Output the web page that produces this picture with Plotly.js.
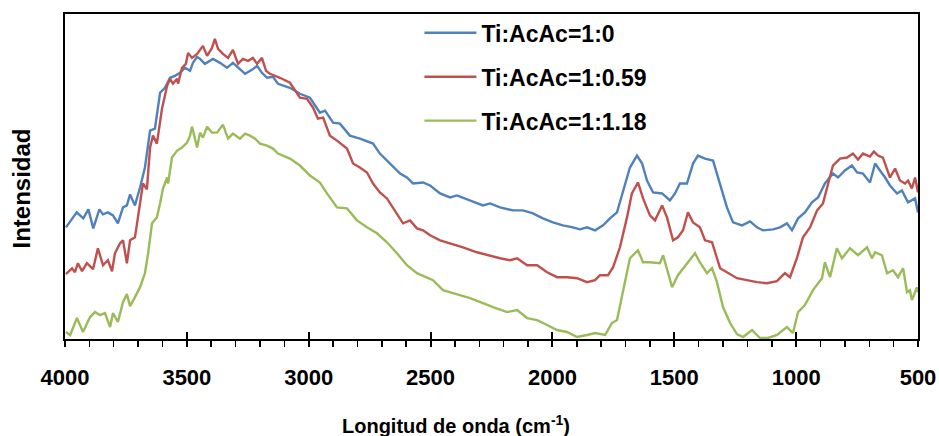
<!DOCTYPE html>
<html>
<head>
<meta charset="utf-8">
<script src="https://cdn.plot.ly/plotly-3.0.1.min.js"></script>
<style>html,body{margin:0;padding:0;background:#fff;}#chart{width:939px;height:436px;}</style>
</head>
<body>
<div id="chart"></div>
<script>
// Series names
const seriesNames = ["Ti:AcAc=1:0", "Ti:AcAc=1:0.59", "Ti:AcAc=1:1.18"];

// Ti:AcAc=1:0 (blue)
const blueWn = [3996,3952,3925,3904,3884,3859,3844,3824,3803,3783,3762,3746,3733,3713,3692,3672,3651,3631,3610,3590,3569,3549,3528,3508,3487,3475,3458,3446,3426,3393,3364,3335,3311,3282,3261,3233,3212,3192,3171,3147,3126,3077,3036,2995,2954,2933,2900,2872,2831,2790,2736,2708,2667,2625,2597,2572,2531,2502,2461,2420,2392,2338,2285,2256,2215,2162,2121,2080,2039,1998,1957,1916,1887,1858,1825,1792,1764,1735,1710,1682,1653,1632,1612,1587,1550,1518,1497,1477,1448,1423,1403,1374,1341,1312,1284,1259,1222,1189,1161,1136,1095,1066,1038,1017,992,964,935,910,882,849,828,800,771,750,726,697,676,656,635,615,586,566,541,512,500];
const blueI = [112,127,121,130,111,130,125,127,124,116,132,134,145,134,152,172,209,211,247,252,262,264,267,272,269,277,283,281,276,281,277,272,277,271,266,270,274,267,262,263,256,252,246,242,227,229,217,216,204,201,196,186,176,166,162,156,157,154,146,142,144,139,134,136,132,129,129,126,121,117,114,112,110,112,109,114,121,127,149,172,184,176,159,147,146,139,146,156,156,176,184,181,179,156,132,117,114,118,112,109,110,112,116,109,121,127,137,142,156,166,162,169,174,167,166,157,176,169,162,154,146,149,137,141,127];

// Ti:AcAc=1:0.59 (red)
const redWn = [3996,3971,3959,3947,3930,3910,3885,3865,3844,3824,3807,3795,3774,3762,3746,3733,3713,3692,3680,3664,3651,3639,3623,3602,3581,3569,3557,3540,3536,3520,3504,3495,3479,3458,3434,3417,3397,3385,3372,3352,3331,3311,3290,3270,3249,3229,3212,3192,3175,3159,3118,3077,3036,3007,2982,2962,2941,2913,2884,2843,2818,2790,2761,2736,2708,2679,2638,2613,2584,2556,2531,2502,2461,2420,2367,2310,2264,2215,2174,2145,2104,2063,2022,1981,1940,1899,1858,1825,1805,1772,1751,1723,1694,1674,1649,1628,1600,1579,1550,1530,1505,1485,1464,1444,1423,1395,1374,1345,1312,1284,1243,1202,1161,1120,1079,1046,1025,997,972,943,914,890,869,849,820,791,767,746,726,697,681,664,644,615,594,574,553,541,525,512,500];
const redI = [65,71,67,76,68,76,70,91,74,79,68,86,96,99,76,99,102,139,156,150,192,204,196,231,254,261,256,261,256,272,276,287,282,286,294,284,292,301,291,286,282,290,276,281,279,282,276,282,269,266,262,257,242,241,232,221,222,204,199,191,176,172,167,156,147,141,126,116,119,111,109,104,99,96,92,87,84,81,79,81,74,74,67,62,62,61,57,59,64,64,72,92,122,146,157,141,124,119,134,122,99,102,109,127,117,112,99,97,71,67,61,59,57,56,58,66,62,81,102,112,129,136,157,174,181,182,186,180,186,183,188,184,182,162,171,159,156,159,151,162,147];

// Ti:AcAc=1:1.18 (green)
const greenWn = [3996,3979,3951,3926,3897,3877,3856,3836,3815,3803,3783,3762,3746,3733,3713,3692,3672,3659,3643,3623,3610,3598,3581,3577,3561,3540,3520,3499,3487,3479,3458,3446,3434,3417,3397,3376,3352,3331,3311,3282,3261,3241,3220,3200,3171,3147,3126,3077,3036,2995,2954,2925,2884,2843,2802,2761,2720,2679,2638,2597,2556,2515,2490,2449,2420,2338,2264,2244,2186,2145,2104,2063,2022,1981,1940,1899,1858,1825,1784,1756,1735,1710,1682,1649,1628,1600,1559,1546,1526,1509,1485,1448,1415,1395,1366,1345,1325,1300,1271,1243,1218,1181,1148,1115,1079,1038,1013,992,964,931,894,882,861,833,812,779,746,709,689,676,648,627,603,582,561,545,533,525,504,500];
const greenI = [7,4,21,7,22,27,24,26,12,26,17,37,45,33,42,52,66,86,116,122,136,151,162,156,182,189,192,197,204,213,192,207,202,213,207,207,215,201,206,201,206,204,201,196,194,191,186,181,174,164,157,146,132,131,119,112,106,97,86,74,66,62,59,49,47,41,34,32,27,29,21,19,14,9,7,2,4,6,4,16,19,49,81,89,77,77,76,84,66,52,64,76,86,77,66,71,57,32,16,5,2,9,1,1,4,12,6,27,34,49,61,77,62,91,81,91,84,92,81,87,84,66,69,62,71,47,49,39,52,47];

// Axis ticks and titles
const xTickVals = [4000,3500,3000,2500,2000,1500,1000,500];
const xTickText = ["4000","3500","3000","2500","2000","1500","1000","500"];
const xTitle = "Longitud de onda (cm<sup>-1</sup>)";
const yTitle = "Intensidad";

const colors = ["#4F81BD", "#C0504D", "#9BBB59"];
const xs = [blueWn, redWn, greenWn];
const ys = [blueI, redI, greenI];

const FONT = "Liberation Sans, Arial, sans-serif";

const traces = xs.map((x, i) => ({
  type: "scatter", mode: "lines",
  x: x, y: ys[i], name: seriesNames[i],
  legendgroup: "g" + i,
  line: {color: colors[i], width: 2.4},
  xaxis: "x", yaxis: "y"
}));
// invisible trace carrying the crossing major ticks axis
traces.push({type: "scatter", mode: "lines", x: [4000, 500], y: [0, 0], xaxis: "x2", yaxis: "y",
  showlegend: false, hoverinfo: "skip", line: {color: "rgba(0,0,0,0)", width: 0}});

const layout = {
  width: 939, height: 436,
  margin: {l: 65, r: 21, t: 13, b: 97},
  paper_bgcolor: "#fff", plot_bgcolor: "#fff",
  showlegend: true,
  font: {family: FONT, color: "#000"},
  legend: {
    x: 0.4155, y: 1.005, xanchor: "left", yanchor: "top",
    traceorder: "grouped", tracegroupgap: 11, itemwidth: 52,
    font: {family: FONT, size: 23, color: "#000", weight: "bold"},
    bgcolor: "rgba(0,0,0,0)"
  },
  xaxis: {
    range: [4000, 500], autorange: false,
    tickvals: xTickVals, ticktext: xTickText,
    ticks: "outside", ticklen: 6, tickwidth: 2, tickcolor: "#000",
    minor: {dtick: 100, tick0: 0, ticks: "outside", ticklen: 6, tickwidth: 1.5, tickcolor: "#000"},
    ticklabelstandoff: 12,
    tickfont: {family: FONT, size: 22, color: "#000", weight: "bold"},
    showline: true, linecolor: "#000", linewidth: 2, mirror: true,
    showgrid: false, zeroline: false
  },
  xaxis2: {
    overlaying: "x", range: [4000, 500], autorange: false, side: "bottom",
    tickvals: xTickVals, ticks: "inside", ticklen: 7, tickwidth: 2, tickcolor: "#000",
    showticklabels: false, showline: false, showgrid: false, zeroline: false
  },
  yaxis: {
    range: [0, 326], autorange: false,
    showticklabels: false, ticks: "",
    showline: true, linecolor: "#000", linewidth: 2, mirror: true,
    showgrid: false, zeroline: false
  },
  annotations: [
    {text: xTitle, xref: "paper", yref: "paper", x: 0.458, y: -0.264, xanchor: "center", yanchor: "middle",
     showarrow: false, font: {family: FONT, size: 20, color: "#000", weight: "bold"}},
    {text: yTitle, xref: "paper", yref: "paper", x: -0.0504, y: 0.463, xanchor: "center", yanchor: "middle",
     textangle: -90, showarrow: false, font: {family: FONT, size: 24, color: "#000", weight: "bold"}}
  ]
};

Plotly.newPlot("chart", traces, layout, {staticPlot: true, displayModeBar: false});
</script>
</body>
</html>
